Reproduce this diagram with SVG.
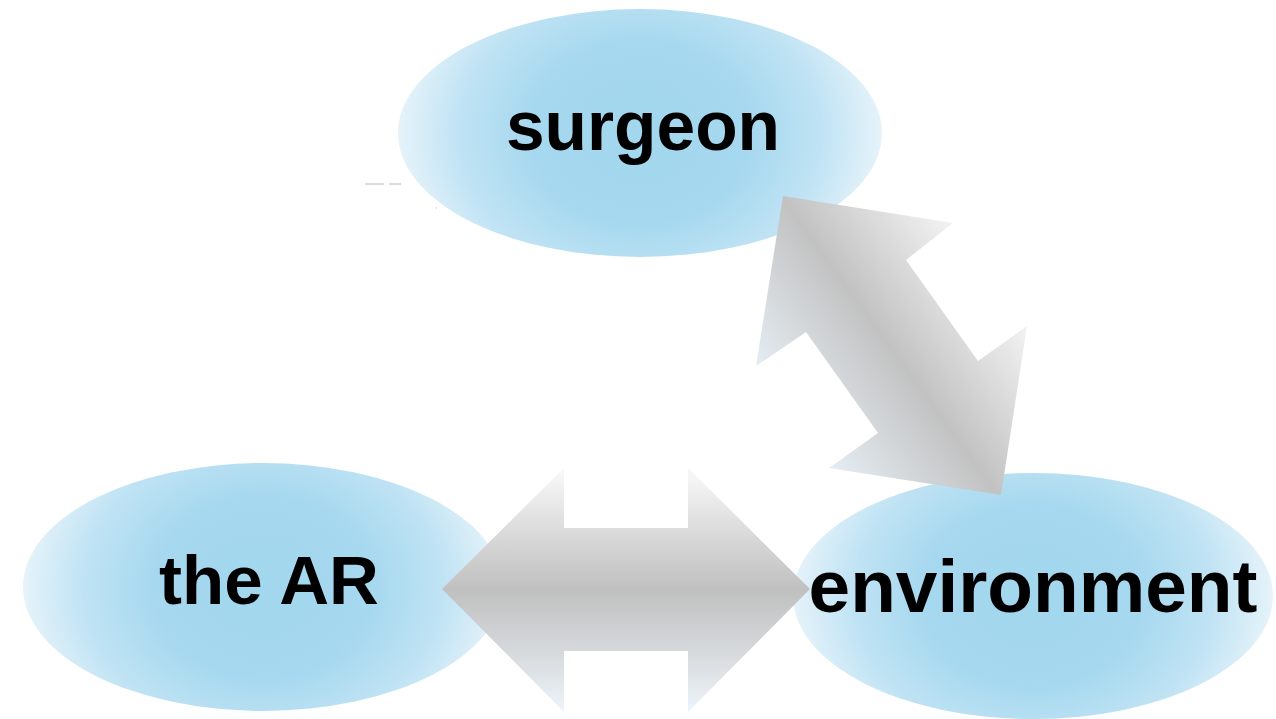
<svg xmlns="http://www.w3.org/2000/svg" width="1276" height="719" viewBox="0 0 1276 719">
<defs>
<radialGradient id="blob" cx="0.5" cy="0.5" r="0.5" gradientTransform="translate(0.5 0.5) scale(1 1.6) translate(-0.5 -0.5)">
<stop offset="0" stop-color="#a2d7ee"/>
<stop offset="0.45" stop-color="#a6d8ef"/>
<stop offset="0.75" stop-color="#c0e3f4"/>
<stop offset="1" stop-color="#e6f3fa"/>
</radialGradient>
<linearGradient id="hgrad" x1="0" y1="0" x2="0" y2="1">
<stop offset="0" stop-color="#fafafa"/>
<stop offset="0.25" stop-color="#dcdcdc"/>
<stop offset="0.5" stop-color="#c0c0c0"/>
<stop offset="0.75" stop-color="#d6d9dc"/>
<stop offset="1" stop-color="#edf4fa"/>
</linearGradient>
<linearGradient id="dgrad" gradientUnits="userSpaceOnUse" x1="780" y1="427" x2="1000" y2="267">
<stop offset="0" stop-color="#eaf3fa"/>
<stop offset="0.5" stop-color="#c2c2c2"/>
<stop offset="1" stop-color="#f8f8f8"/>
</linearGradient>
</defs>
<style>
.blob{fill:url(#blob)}
.lbl{font-family:"Liberation Sans",Arial,sans-serif;font-weight:bold;fill:#000;text-anchor:middle}
</style>
<g id="surgeon"><ellipse class="blob" cx="640" cy="133" rx="242" ry="124"/></g>
<g id="the-ar"><ellipse class="blob" cx="263" cy="587" rx="240" ry="124"/></g>
<g id="environment"><ellipse class="blob" cx="1033" cy="596" rx="240" ry="123"/></g>
<g id="stray" stroke="#888" stroke-width="1" opacity="0.6">
<line x1="365" y1="184" x2="384" y2="184"/><line x1="389" y1="184" x2="401" y2="184"/>
<line x1="436" y1="208" x2="437" y2="208"/>
</g>
<g id="connectors">
<path d="M442,589 L564,468 L564,528 L688,528 L688,468 L810,589 L688,712 L688,651 L564,651 L564,712 Z" fill="url(#hgrad)"/>
<path d="M783,196 L953,223 L906,260 L978,361 L1027,326 L1001,495 L829,468 L878,433 L806,332 L756,366 Z" fill="url(#dgrad)"/>
</g>
<g id="labels">
<text class="lbl" x="643" y="150" font-size="69.5">surgeon</text>
<text class="lbl" x="269" y="604" font-size="69">the AR</text>
<text class="lbl" x="1033" y="612" font-size="74.8">environment</text>
</g>
</svg>
